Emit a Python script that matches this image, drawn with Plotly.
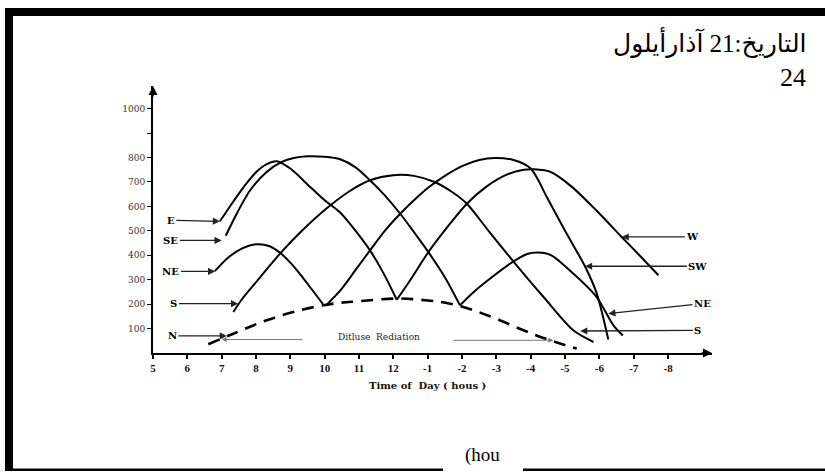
import plotly.graph_objects as go

# ---------------- data (hour of day, W/m2) ----------------
tick_hours = [5, 6, 7, 8, 9, 10, 11, 12, 13, 14, 15, 16, 17, 18, 19, 20]
tick_labels = ["5", "6", "7", "8", "9", "10", "11", "12", "-1", "-2", "-3", "-4", "-5", "-6", "-7", "-8"]
y_ticks = [100, 200, 300, 400, 500, 600, 700, 800, 900, 1000]
y_tick_labels = ["100", "200", "300", "400", "500", "600", "700", "800", "", "1000"]

E_h = [6.95, 7.3, 7.7, 8.0, 8.3, 8.6, 9.0, 9.5, 10.0, 10.45, 10.9, 11.32, 11.7, 12.1]
E_v = [539, 612, 690, 740, 772, 785, 755, 690, 625, 575, 500, 420, 330, 218]

SE_h = [7.12, 7.4, 7.83, 8.3, 8.75, 9.1, 9.5, 10.0, 10.45, 10.9, 11.32, 11.75, 12.2, 12.6, 13.02, 13.5, 13.94]
SE_v = [480, 560, 666, 740, 782, 798, 805, 803, 793, 760, 707, 645, 570, 495, 413, 310, 195]

NE_h = [6.8, 7.2, 7.6, 8.0, 8.4, 8.7, 9.0, 9.3, 9.6, 9.95]
NE_v = [335, 392, 428, 445, 437, 410, 370, 320, 265, 200]

S_h = [7.34, 7.6, 8.0, 8.7, 9.3, 10.0, 10.7, 11.32, 12.0, 12.6, 13.2, 13.7, 14.14, 14.8, 15.59, 16.4, 17.24, 17.83]
S_v = [168, 222, 290, 407, 495, 585, 660, 707, 728, 725, 700, 660, 611, 495, 359, 225, 93, 45]

SW_h = [10.06, 10.45, 10.9, 11.32, 11.75, 12.2, 12.6, 13.0, 13.5, 14.0, 14.5, 14.96, 15.5, 16.0, 16.5, 17.0, 17.58, 17.92, 18.26]
SW_v = [198, 255, 340, 420, 500, 570, 625, 675, 725, 765, 790, 798, 790, 755, 630, 500, 355, 245, 55]

W_h = [12.1, 12.5, 13.02, 13.6, 14.14, 14.7, 15.3, 15.8, 16.1, 16.6, 17.2, 17.9, 18.65, 19.2, 19.72]
W_v = [218, 300, 413, 520, 611, 680, 730, 750, 752, 740, 680, 585, 475, 395, 318]

NW_h = [13.94, 14.3, 14.82, 15.5, 15.9, 16.22, 16.6, 17.24, 17.92, 18.41, 18.68]
NW_v = [195, 245, 305, 375, 405, 411, 400, 325, 229, 113, 72]

D_h = [6.61, 7.34, 8.31, 9.28, 10.25, 11.0, 12.1, 13.0, 13.65, 14.33, 15.0, 15.79, 16.5, 17.34]
D_v = [36, 79, 134, 175, 202, 212, 223, 215, 202, 175, 140, 93, 55, 18]

# label: (text, text_h, text_v, tip_h, tip_v)
left_labels = [("E", 5.52, 543, 6.95, 539), ("SE", 5.52, 461, 7.0, 461),
               ("NE", 5.52, 334, 6.81, 334), ("S", 5.61, 202, 7.48, 202),
               ("N", 5.56, 70, 7.15, 70)]
right_labels = [("W", 20.72, 475, 18.65, 475), ("SW", 20.87, 355, 17.58, 355),
                ("NE", 21.0, 202, 18.26, 161), ("S", 20.87, 93, 17.44, 90)]

# ---------------- figure ----------------
W, H = 825, 472
L, R, T, B = 153, 712, 86, 353  # plot area in pixels

def px(x):
    return (x - L) / (R - L)

def py(y):
    return (B - y) / (B - T)

fig = go.Figure()
curve = dict(color="black", width=2)
for hh, vv in [(E_h, E_v), (SE_h, SE_v), (NE_h, NE_v), (S_h, S_v),
               (SW_h, SW_v), (W_h, W_v), (NW_h, NW_v)]:
    fig.add_trace(go.Scatter(x=hh, y=vv, mode="lines", line=dict(shape="spline", smoothing=0.8, **curve),
                             hoverinfo="skip", showlegend=False))
fig.add_trace(go.Scatter(x=D_h, y=D_v, mode="lines",
                         line=dict(color="black", width=2.6, dash="12px,8px", shape="spline"),
                         hoverinfo="skip", showlegend=False))

serif = "DejaVu Serif, Liberation Serif, serif"
times = "Liberation Serif, serif"
ann = []
for t, th, tv, xh, xv in left_labels + right_labels:
    ann.append(dict(x=xh, y=xv, ax=th, ay=tv, axref="x", ayref="y", xref="x", yref="y",
                    text="<b>%s</b>" % t, showarrow=True, arrowhead=2, arrowsize=1.1,
                    arrowwidth=1.3, arrowcolor="#222", standoff=0, startstandoff=0,
                    font=dict(family=serif, size=10, color="black")))
# diffuse radiation label and arrows
ann.append(dict(x=11.58, y=65, xref="x", yref="y", text="Ditluse  Rediation", showarrow=False,
                font=dict(family=serif, size=9, color="#222")))
ann.append(dict(x=7.0, y=55, ax=9.4, ay=55, axref="x", ayref="y", xref="x", yref="y", text="",
                showarrow=True, arrowhead=2, arrowsize=1, arrowwidth=1, arrowcolor="#777"))
ann.append(dict(x=16.66, y=52, ax=13.7, ay=52, axref="x", ayref="y", xref="x", yref="y", text="",
                showarrow=True, arrowhead=2, arrowsize=1, arrowwidth=1, arrowcolor="#777"))
# axis arrowheads
ann.append(dict(x=1.0, y=0, xref="paper", yref="paper", ax=-12, ay=0, text="", showarrow=True,
                arrowhead=2, arrowsize=1.2, arrowwidth=1.5, arrowcolor="black"))
ann.append(dict(x=0, y=1.0, xref="paper", yref="paper", ax=0, ay=12, text="", showarrow=True,
                arrowhead=2, arrowsize=1.2, arrowwidth=1.5, arrowcolor="black"))
# axis title
ann.append(dict(x=px(427), y=py(393), xref="paper", yref="paper", text="<b>Time of  Day ( hous )</b>",
                showarrow=False, font=dict(family=serif, size=10, color="#111")))
# Arabic header
hdr = "Liberation Serif, DejaVu Sans, serif"
ann.append(dict(x=px(808), y=py(42), xref="paper", yref="paper", xanchor="right", yanchor="middle",
                text="التاريخ:21 آذارأيلول", showarrow=False, font=dict(family=hdr, size=25, color="black")))
ann.append(dict(x=px(808), y=py(78), xref="paper", yref="paper", xanchor="right", yanchor="middle",
                text="24", showarrow=False, font=dict(family=hdr, size=26, color="black")))
ann.append(dict(x=px(482), y=py(455), xref="paper", yref="paper", xanchor="center", yanchor="middle",
                text="(hou", showarrow=False, font=dict(family=times, size=19, color="black")))

shapes = [
    dict(type="rect", xref="paper", yref="paper", x0=px(5), x1=px(826), y0=py(16), y1=py(8),
         fillcolor="black", line=dict(width=0)),
    dict(type="rect", xref="paper", yref="paper", x0=px(5), x1=px(13), y0=py(471), y1=py(8),
         fillcolor="black", line=dict(width=0)),
    dict(type="rect", xref="paper", yref="paper", x0=px(13), x1=px(443), y0=py(471), y1=py(468.5),
         fillcolor="black", line=dict(width=0)),
    dict(type="rect", xref="paper", yref="paper", x0=px(523), x1=px(826), y0=py(471), y1=py(468.5),
         fillcolor="black", line=dict(width=0)),
]

fig.update_layout(
    width=W, height=H, paper_bgcolor="white", plot_bgcolor="white",
    margin=dict(l=L, r=W - R, t=T, b=H - B, pad=0),
    annotations=ann, shapes=shapes, showlegend=False,
    xaxis=dict(range=[5, 21.28], tickvals=tick_hours, ticktext=["<b>%s</b>" % t for t in tick_labels],
               showgrid=False, zeroline=False, showline=True, linecolor="black", linewidth=2,
               ticks="outside", ticklen=4, tickwidth=1.5, tickcolor="black",
               tickfont=dict(family=times, size=11, color="#111")),
    yaxis=dict(range=[0, 1092.9], tickvals=y_ticks, ticktext=y_tick_labels,
               showgrid=False, zeroline=False, showline=True, linecolor="black", linewidth=2,
               ticks="outside", ticklen=4, tickwidth=1, tickcolor="black",
               tickfont=dict(family=serif, size=9, color="#333")),
)

fig.write_html("out.html", config={"displayModeBar": False},
               post_script="document.body.style.margin='0';")
